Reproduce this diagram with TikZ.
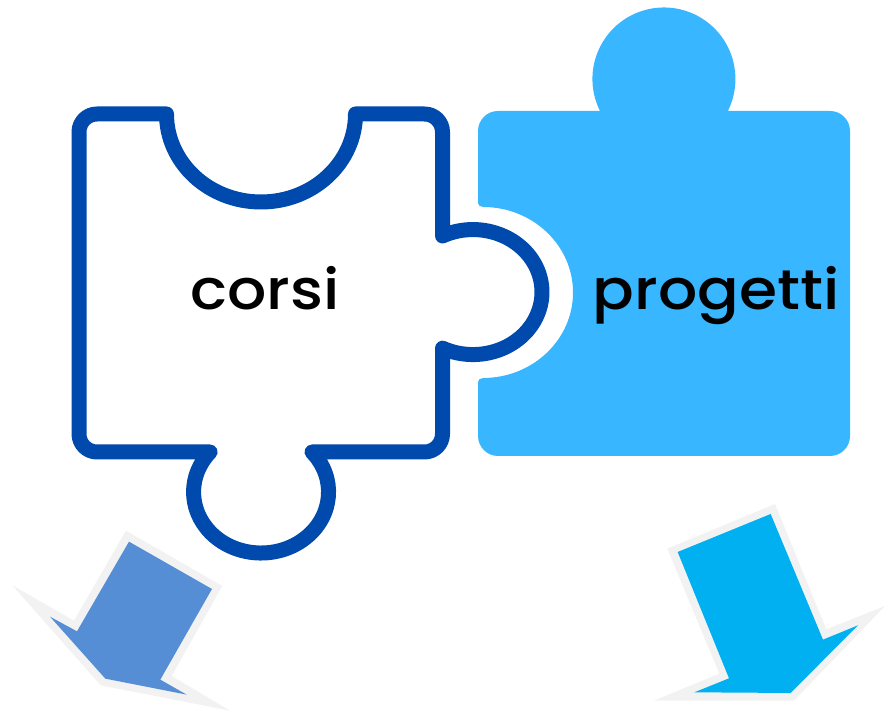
\documentclass[tikz,border=0pt]{standalone}
\usepackage{fontspec}
\newfontfamily\labfont{Poppins Medium}[FakeStretch=1.1]
\definecolor{outlineblue}{HTML}{004AAD}
\definecolor{skyblue}{HTML}{38B6FF}
\definecolor{arrowgray}{HTML}{F2F2F2}
\definecolor{arrowleft}{HTML}{558ED5}
\definecolor{arrowright}{HTML}{00B0F0}
\tikzset{
  piecelabel/.style={inner sep=0pt,anchor=base,text=black,font=\labfont\fontsize{56}{56}\selectfont},
  halo/.style={fill=arrowgray},
}
\begin{document}
\begin{tikzpicture}[x=1pt,y=1pt]
\useasboundingbox (0,0) rectangle (885,711);
% blue piece
\fill[skyblue] (498,600) -- (600,600)
  arc[start angle=206.6,end angle=-26.6,radius=71.5] -- (830,600)
  arc[start angle=90,end angle=0,radius=20] -- (850,275)
  arc[start angle=0,end angle=-90,radius=20] -- (498,255)
  arc[start angle=270,end angle=180,radius=20] -- (478,329)
  .. controls (478,331) and (480,333) .. (483,333)
  arc[start angle=-90,end angle=90,x radius=90,y radius=85.5]
  .. controls (480,504) and (478,506) .. (478,508) -- (478,580)
  arc[start angle=180,end angle=90,radius=20] -- cycle;
% outlined piece
\draw[outlineblue,line width=15pt,line join=round,fill=white]
  (97,597) -- (166.5,597)
  arc[start angle=180,end angle=360,x radius=94.5,y radius=88] -- (424.5,597)
  arc[start angle=90,end angle=0,radius=18] -- (442.5,475)
  arc[start angle=116.2,end angle=-116.2,x radius=69,y radius=62.5] -- (442.5,277)
  arc[start angle=0,end angle=-90,radius=18] -- (312,259)
  arc[start angle=41,end angle=-221,x radius=67.5,y radius=61] -- (97,259)
  arc[start angle=270,end angle=180,radius=18] -- (79,579)
  arc[start angle=180,end angle=90,radius=18] -- cycle;
\node[piecelabel] (corsi) at (265,401) {corsi};
\node[piecelabel] (progetti) at (716,401) {progetti};
% left arrow
\begin{scope}[shift={(0,201)},x=0.3333pt,y=-0.3333pt]
\fill[halo] (378,62) -- (667,228) -- (515,498) -- (690,602) -- (302,526) -- (37,226) -- (222,332) -- cycle;
\fill[arrowleft] (387,95) -- (636,237) -- (481,509) -- (560,554) -- (316,506) -- (150,320) -- (231,364) -- cycle;
\end{scope}
% right arrow
\begin{scope}[shift={(640,221)},x=0.3333pt,y=-0.3333pt]
\fill[halo] (405,42) -- (82,176) -- (238,551) -- (42,632) -- (462,632) -- (735,348) -- (559,418) -- cycle;
\fill[arrowright] (392,72) -- (113,186) -- (267,565) -- (163,607) -- (452,609) -- (654,406) -- (549,449) -- cycle;
\end{scope}
\end{tikzpicture}
\end{document}
